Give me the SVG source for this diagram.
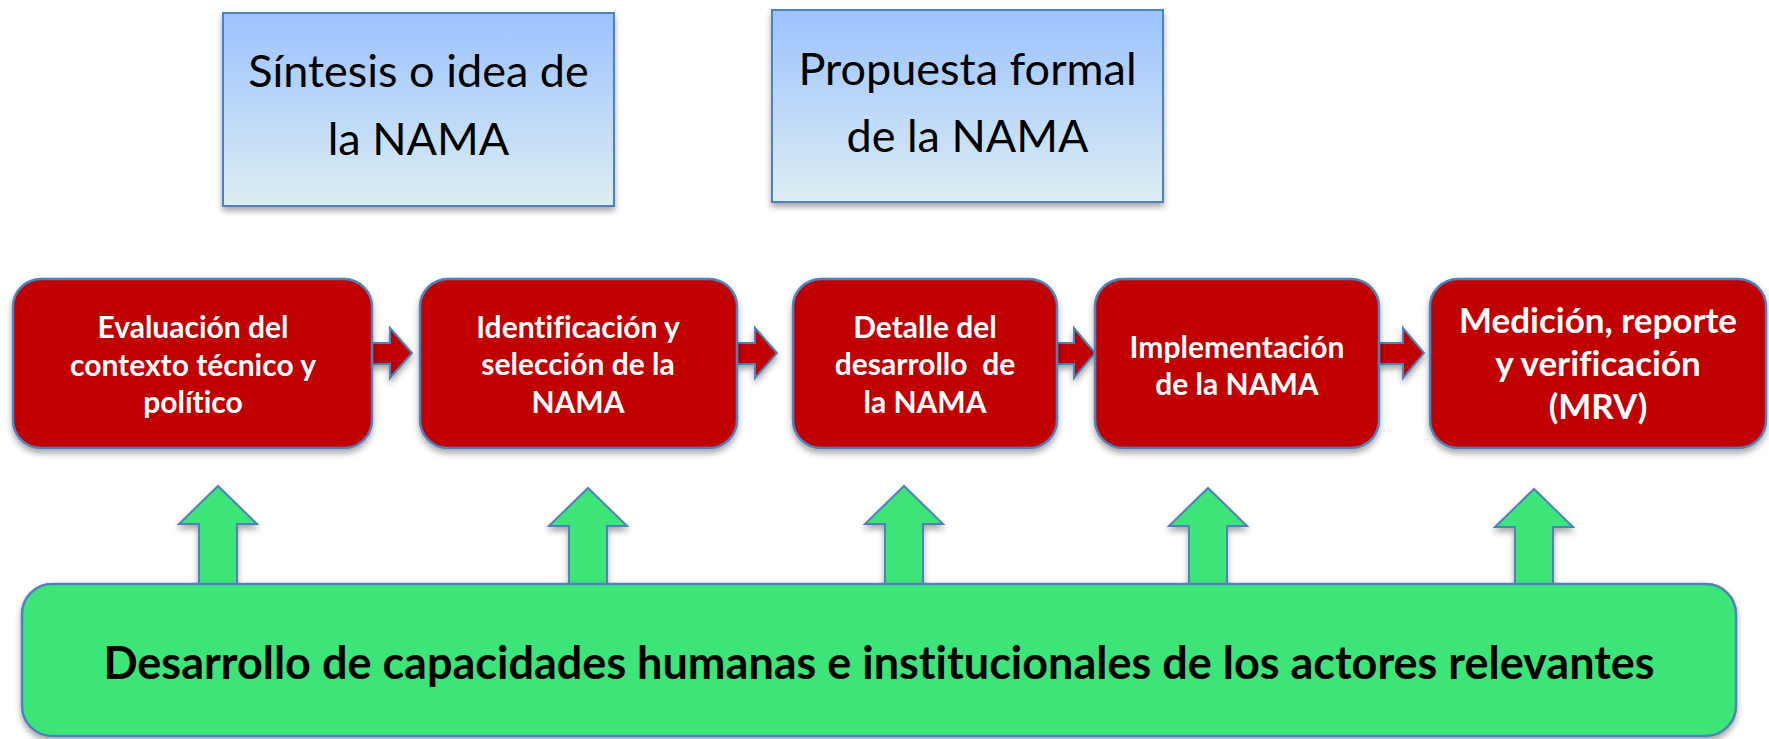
<svg xmlns="http://www.w3.org/2000/svg" width="1769" height="739" viewBox="0 0 1769 739">
<defs>
<linearGradient id="blueGrad" x1="0" y1="0" x2="0" y2="1">
<stop offset="0" stop-color="#9CC2FF"/>
<stop offset="1" stop-color="#DCEEF2"/>
</linearGradient>
<filter id="shadow" x="-10%" y="-10%" width="120%" height="130%">
<feDropShadow dx="0" dy="4" stdDeviation="3" flood-color="#000" flood-opacity="0.35"/>
</filter>
</defs>
<style>
text{font-variant-ligatures:none}
.top{fill:url(#blueGrad);stroke:#4F81BD;stroke-width:2}
.red{fill:#C00000;stroke:#4F81BD;stroke-width:2.5}
.green{fill:#3DE477;stroke:#4F81BD;stroke-width:2.5}
.rarrow{fill:#C00000;stroke:#4F81BD;stroke-width:2;stroke-linejoin:miter}
.garrow{fill:#3DE477;stroke:#4F81BD;stroke-width:2;stroke-linejoin:miter}
.ttext{font-family:Lato,"Liberation Sans",sans-serif;font-size:45px;fill:#000;text-anchor:middle}
.rtext{font-family:Lato,"Liberation Sans",sans-serif;font-size:30px;font-weight:bold;fill:#fff;text-anchor:middle}
.rtext5{font-family:Lato,"Liberation Sans",sans-serif;font-size:35px;font-weight:bold;fill:#fff;text-anchor:middle}
.gtext{font-family:Lato,"Liberation Sans",sans-serif;font-size:45px;font-weight:bold;fill:#000;text-anchor:middle}
</style>
<rect width="1769" height="739" fill="#fff"/>

<g id="connectors">
<g filter="url(#shadow)">
<path class="garrow" d="M199,584 V524 H179 L218,486 L257,524 H237 V584 Z"/>
<path class="garrow" d="M569,584 V526 H549 L588,488 L627,526 H607 V584 Z"/>
<path class="garrow" d="M885,584 V524 H865 L904,486 L943,524 H923 V584 Z"/>
<path class="garrow" d="M1189,584 V526 H1169 L1208,488 L1247,526 H1227 V584 Z"/>
<path class="garrow" d="M1515,584 V527 H1495 L1534,489 L1573,527 H1553 V584 Z"/>
</g>
<g filter="url(#shadow)">
<path class="rarrow" d="M372,343 H390 V328 L412,353 L390,378 V364 H372 Z"/>
<path class="rarrow" d="M737,343 H755 V328 L777,353 L755,378 V364 H737 Z"/>
<path class="rarrow" d="M1057,343 H1074 V328 L1095,353 L1074,378 V364 H1057 Z"/>
<path class="rarrow" d="M1379,343 H1403 V328 L1424,353 L1403,378 V364 H1379 Z"/>
</g>
</g>

<g id="top-sintesis">
<rect class="top" x="223" y="13" width="391" height="193" filter="url(#shadow)"/>
<text class="ttext" x="418.5" y="87">Síntesis o idea de</text>
<text class="ttext" x="418.5" y="155">la NAMA</text>
</g>

<g id="top-propuesta">
<rect class="top" x="772" y="10" width="391" height="192" filter="url(#shadow)"/>
<text class="ttext" x="967.5" y="85">Propuesta formal</text>
<text class="ttext" x="967.5" y="152">de la NAMA</text>
</g>

<g id="step-evaluacion">
<rect class="red" x="13" y="279" width="359" height="169" rx="28" filter="url(#shadow)"/>
<text class="rtext" x="193" y="338">Evaluación del</text>
<text class="rtext" x="193" y="376">contexto técnico y</text>
<text class="rtext" x="193" y="413">político</text>
</g>

<g id="step-identificacion">
<rect class="red" x="420" y="279" width="317" height="169" rx="28" filter="url(#shadow)"/>
<text class="rtext" x="578" y="338">Identificación y</text>
<text class="rtext" x="578" y="375">selección de la</text>
<text class="rtext" x="578" y="413">NAMA</text>
</g>

<g id="step-detalle">
<rect class="red" x="793" y="279" width="264" height="169" rx="28" filter="url(#shadow)"/>
<text class="rtext" x="925" y="338">Detalle del</text>
<text class="rtext" x="925" y="375" xml:space="preserve">desarrollo  de</text>
<text class="rtext" x="925" y="413">la NAMA</text>
</g>

<g id="step-implementacion">
<rect class="red" x="1095" y="279" width="284" height="169" rx="28" filter="url(#shadow)"/>
<text class="rtext" x="1237" y="358">Implementación</text>
<text class="rtext" x="1237" y="395">de la NAMA</text>
</g>

<g id="step-mrv">
<rect class="red" x="1430" y="279" width="336" height="169" rx="28" filter="url(#shadow)"/>
<text class="rtext5" x="1598" y="333">Medición, reporte</text>
<text class="rtext5" x="1598" y="376">y verificación</text>
<text class="rtext5" x="1598" y="419">(MRV)</text>
</g>

<g id="capacidades">
<rect class="green" x="22" y="584" width="1714" height="152" rx="30" filter="url(#shadow)"/>
<text class="gtext" x="879" y="679">Desarrollo de capacidades humanas e institucionales de los actores relevantes</text>
</g>
</svg>
